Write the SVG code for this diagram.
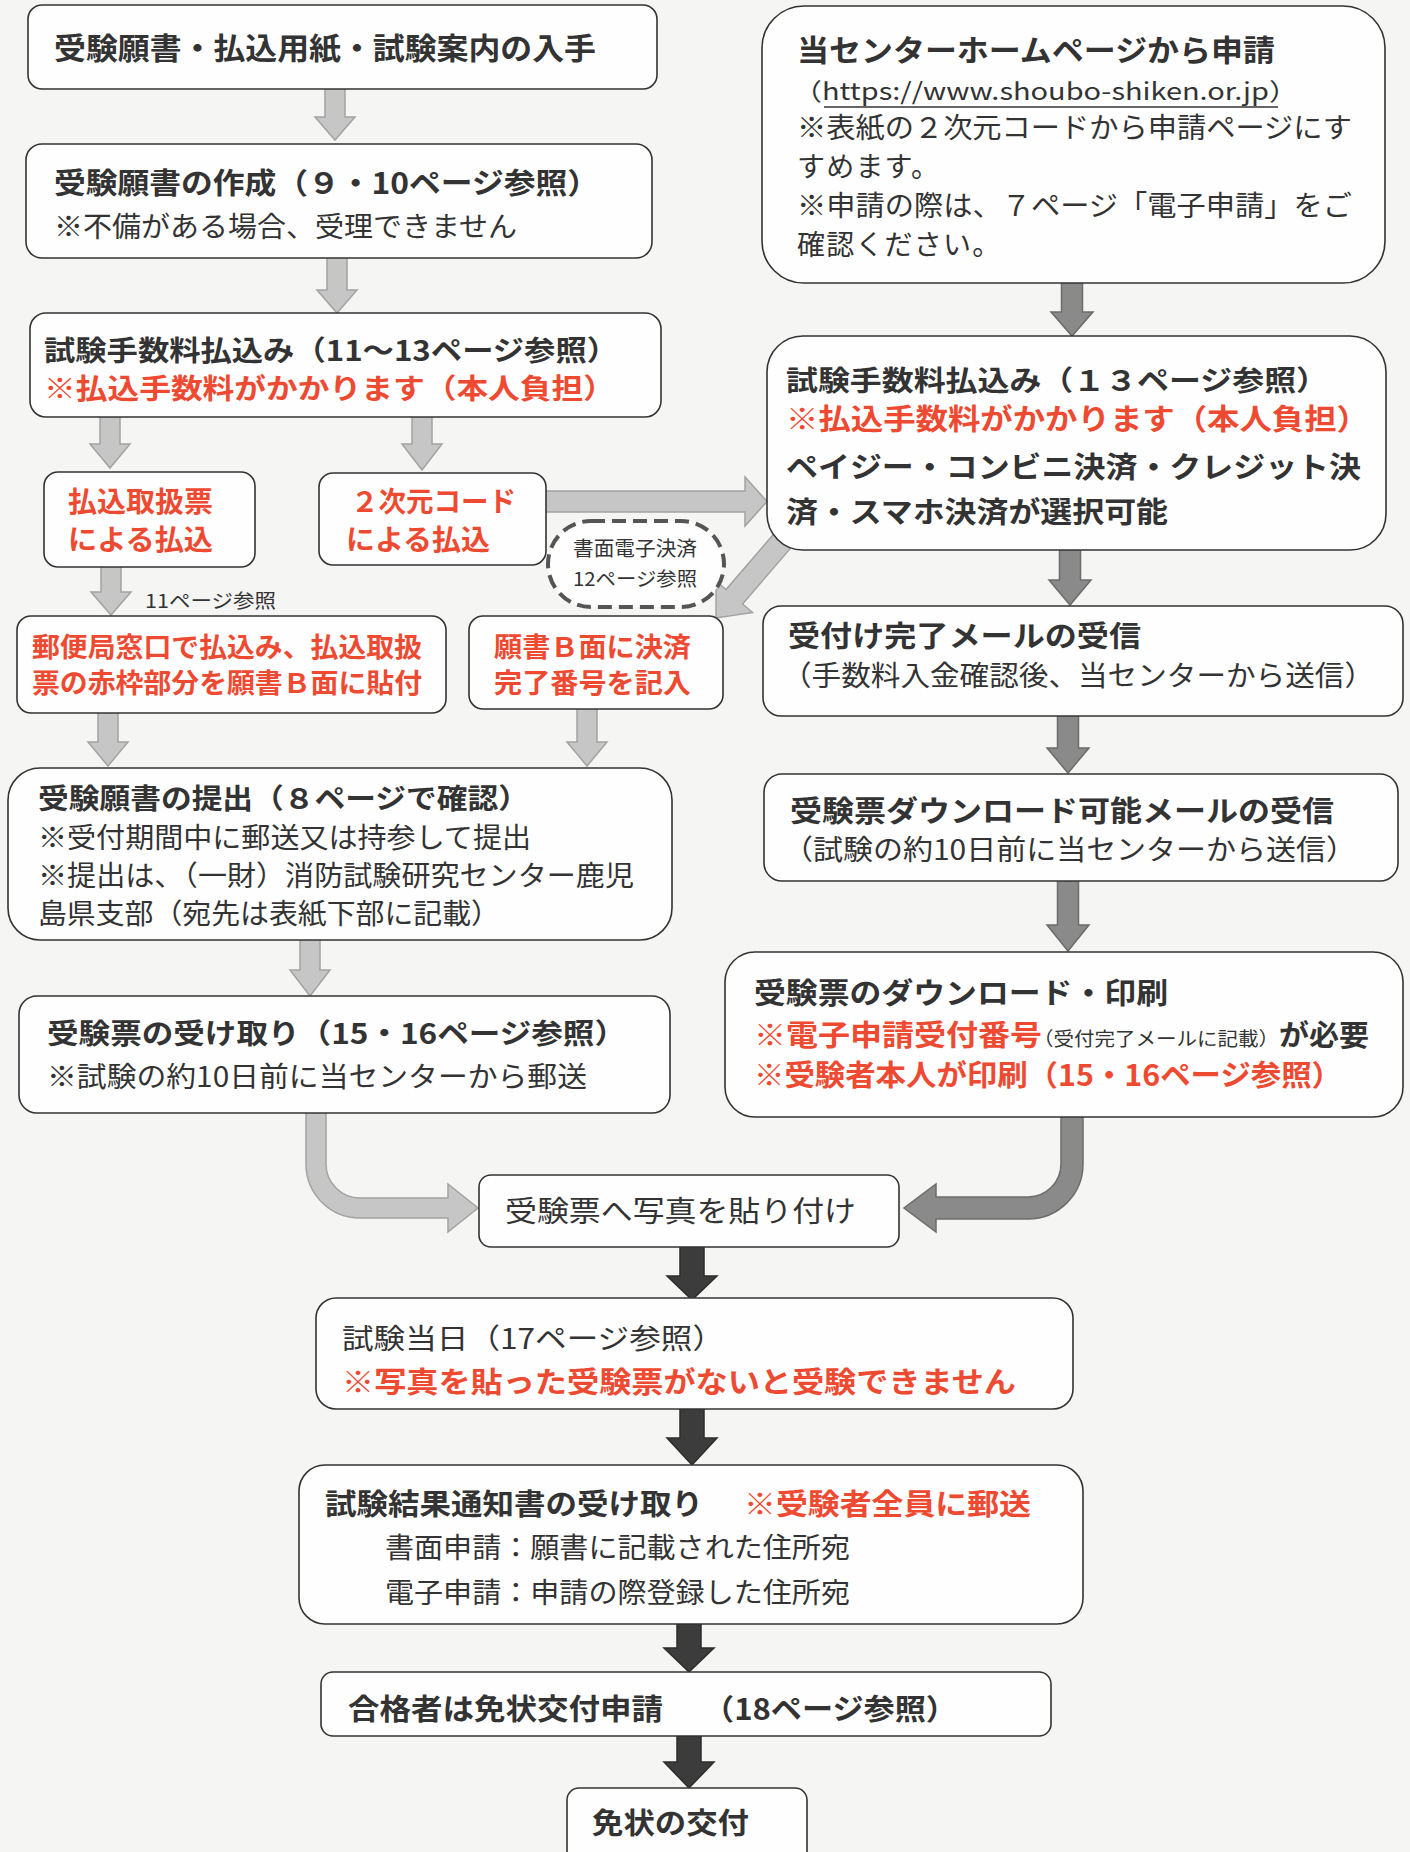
<svg xmlns="http://www.w3.org/2000/svg" width="1410" height="1852" viewBox="0 0 1410 1852">
<style>
.t{font-family:"Noto Sans CJK JP","Noto Sans CJK SC",sans-serif;fill:#333}
.b{font-weight:700}
.r{fill:#ee4a32}
.box{fill:#fefefe;stroke:#333;stroke-width:1.6}
.dash{fill:#fefefe;stroke:#555;stroke-width:4;stroke-dasharray:14 7}
.al{fill:#c6c6c6;stroke:#a3a3a3;stroke-width:1.5}
.am{fill:#8a8a8a;stroke:#6c6c6c;stroke-width:1.5}
.ad{fill:#3c3c3c;stroke:#2c2c2c;stroke-width:1.5}
</style>
<rect x="0" y="0" width="1410" height="1852" fill="#f5f5f3"/>
<g id="connectors">
<polygon class="al" points="325,85 345,85 345,117 355,117 335,140 315,117 325,117"/>
<polygon class="al" points="327,254 347,254 347,290 357,290 337,313 317,290 327,290"/>
<polygon class="al" points="100,413 120,413 120,444 130,444 110,468 90,444 100,444"/>
<polygon class="al" points="412,413 432,413 432,444 442,444 422,470 402,444 412,444"/>
<polygon class="al" points="101,564 121,564 121,592 131,592 111,615 91,592 101,592"/>
<polygon class="al" points="98,710 118,710 118,742 128,742 108,766 88,742 98,742"/>
<polygon class="al" points="577,706 597,706 597,742 607,742 587,766 567,742 577,742"/>
<polygon class="al" points="300,937 320,937 320,970 330,970 310,996 290,970 300,970"/>
<polygon class="al" points="540,491 745,491 745,477 767,501.5 745,526 745,512 540,512"/>
<polygon class="al" points="781.7,524.8 798.3,539.2 742.6,604 752.5,612.4 716,618 716.1,581.2 726,589.6"/>
<path class="al" d="M306 1110 V1164 A54 54 0 0 0 360 1218 H448 V1232 L478 1208 L448 1184 V1198 H360 A34 34 0 0 1 326 1164 V1110 Z"/>
<polygon class="am" points="1061.5,280 1082.5,280 1082.5,312 1093,312 1072,336 1051,312 1061.5,312"/>
<polygon class="am" points="1059.5,547 1080.5,547 1080.5,580 1091,580 1070,605 1049,580 1059.5,580"/>
<polygon class="am" points="1057.5,713 1078.5,713 1078.5,748 1089,748 1068,773 1047,748 1057.5,748"/>
<polygon class="am" points="1057.5,878 1078.5,878 1078.5,925 1089,925 1068,951 1047,925 1057.5,925"/>
<path class="am" d="M1083 1114 V1164 A55 55 0 0 1 1028 1219 H936 V1232 L904 1208 L936 1184 V1197 H1028 A33 33 0 0 0 1061 1164 V1114 Z"/>
<polygon class="ad" points="680,1244 704,1244 704,1276 717,1276 692,1300 667,1276 680,1276"/>
<polygon class="ad" points="680,1406 704,1406 704,1438 717,1438 692,1465 667,1438 680,1438"/>
<polygon class="ad" points="677,1621 701,1621 701,1648 714,1648 689,1672 664,1648 677,1648"/>
<polygon class="ad" points="677,1733 701,1733 701,1762 714,1762 689,1788 664,1762 677,1762"/>
</g>
<g id="n1"><rect class="box" x="28" y="5" width="629" height="84" rx="14"/>
<text class="t b" x="54" y="59" font-size="30" textLength="542" lengthAdjust="spacingAndGlyphs">受験願書・払込用紙・試験案内の入手</text></g>
<g id="n2"><rect class="box" x="26" y="144" width="626" height="114" rx="16"/>
<text class="t b" x="54" y="194" font-size="29" textLength="545" lengthAdjust="spacingAndGlyphs">受験願書の作成（９・10ページ参照）</text>
<text class="t" x="54" y="237" font-size="28" textLength="463" lengthAdjust="spacingAndGlyphs">※不備がある場合、受理できません</text></g>
<g id="n3"><rect class="box" x="30" y="313" width="631" height="104" rx="16"/>
<text class="t b" x="44" y="361" font-size="28" textLength="574" lengthAdjust="spacingAndGlyphs">試験手数料払込み（11～13ページ参照）</text>
<text class="t b r" x="44" y="399" font-size="28" textLength="571" lengthAdjust="spacingAndGlyphs">※払込手数料がかかります（本人負担）</text></g>
<g id="n4a"><rect class="box" x="44" y="472" width="211" height="95" rx="14"/>
<text class="t b r" x="68" y="512" font-size="28" textLength="145" lengthAdjust="spacingAndGlyphs">払込取扱票</text>
<text class="t b r" x="68" y="550" font-size="28" textLength="145" lengthAdjust="spacingAndGlyphs">による払込</text></g>
<g id="n4b"><rect class="box" x="319" y="473" width="227" height="92" rx="14"/>
<text class="t b r" x="351" y="512" font-size="28" textLength="165" lengthAdjust="spacingAndGlyphs">２次元コード</text>
<text class="t b r" x="346" y="550" font-size="28" textLength="144" lengthAdjust="spacingAndGlyphs">による払込</text></g>
<g id="n4e"><rect class="dash" x="548" y="521" width="176" height="86" rx="43"/>
<text class="t" x="573" y="556" font-size="20" textLength="124" lengthAdjust="spacingAndGlyphs">書面電子決済</text>
<text class="t" x="573" y="586" font-size="19" textLength="124" lengthAdjust="spacingAndGlyphs">12ページ参照</text></g>
<g id="lbl11"><text class="t" x="145" y="608" font-size="19" textLength="131" lengthAdjust="spacingAndGlyphs">11ページ参照</text></g>
<g id="n4c"><rect class="box" x="17" y="616" width="429" height="97" rx="14"/>
<text class="t b r" x="32" y="657" font-size="27" textLength="390" lengthAdjust="spacingAndGlyphs">郵便局窓口で払込み、払込取扱</text>
<text class="t b r" x="32" y="693" font-size="27" textLength="390" lengthAdjust="spacingAndGlyphs">票の赤枠部分を願書Ｂ面に貼付</text></g>
<g id="n4d"><rect class="box" x="469" y="616" width="254" height="93" rx="14"/>
<text class="t b r" x="494" y="657" font-size="27" textLength="197" lengthAdjust="spacingAndGlyphs">願書Ｂ面に決済</text>
<text class="t b r" x="494" y="693" font-size="27" textLength="197" lengthAdjust="spacingAndGlyphs">完了番号を記入</text></g>
<g id="n5"><rect class="box" x="8" y="768" width="664" height="172" rx="32"/>
<text class="t b" x="38" y="809" font-size="28" textLength="491" lengthAdjust="spacingAndGlyphs">受験願書の提出（８ページで確認）</text>
<text class="t" x="38" y="848" font-size="28" textLength="493" lengthAdjust="spacingAndGlyphs">※受付期間中に郵送又は持参して提出</text>
<text class="t" x="38" y="886" font-size="28" textLength="596" lengthAdjust="spacingAndGlyphs">※提出は、（一財）消防試験研究センター鹿児</text>
<text class="t" x="38" y="924" font-size="28" textLength="462" lengthAdjust="spacingAndGlyphs">島県支部（宛先は表紙下部に記載）</text></g>
<g id="n6"><rect class="box" x="19" y="996" width="651" height="117" rx="18"/>
<text class="t b" x="47" y="1044" font-size="28" textLength="579" lengthAdjust="spacingAndGlyphs">受験票の受け取り（15・16ページ参照）</text>
<text class="t" x="47" y="1087" font-size="28" textLength="540" lengthAdjust="spacingAndGlyphs">※試験の約10日前に当センターから郵送</text></g>
<g id="r1"><rect class="box" x="762" y="6" width="623" height="277" rx="42"/>
<text class="t b" x="797" y="61" font-size="30" textLength="478" lengthAdjust="spacingAndGlyphs">当センターホームページから申請</text>
<text class="t" x="793" y="100" font-size="24" textLength="505" lengthAdjust="spacingAndGlyphs">（https://www.shoubo-shiken.or.jp）</text>
<line x1="824" y1="107" x2="1278" y2="107" stroke="#333" stroke-width="1.5"/>
<text class="t" x="797" y="138" font-size="28" textLength="555" lengthAdjust="spacingAndGlyphs">※表紙の２次元コードから申請ページにす</text>
<text class="t" x="797" y="177" font-size="28" letter-spacing="1.2">すめます。</text>
<text class="t" x="797" y="216" font-size="28" textLength="555" lengthAdjust="spacingAndGlyphs">※申請の際は、７ページ「電子申請」をご</text>
<text class="t" x="797" y="255" font-size="28" letter-spacing="1.2">確認ください。</text></g>
<g id="r2"><rect class="box" x="767" y="336" width="619" height="214" rx="36"/>
<text class="t b" x="786" y="391" font-size="28" textLength="542" lengthAdjust="spacingAndGlyphs">試験手数料払込み（１３ページ参照）</text>
<text class="t b r" x="786" y="430" font-size="29" textLength="583" lengthAdjust="spacingAndGlyphs">※払込手数料がかかります（本人負担）</text>
<text class="t b" x="786" y="478" font-size="29" textLength="575" lengthAdjust="spacingAndGlyphs">ペイジー・コンビニ決済・クレジット決</text>
<text class="t b" x="786" y="523" font-size="29" textLength="382" lengthAdjust="spacingAndGlyphs">済・スマホ決済が選択可能</text></g>
<g id="r3"><rect class="box" x="763" y="606" width="640" height="110" rx="18"/>
<text class="t b" x="788" y="647" font-size="29" textLength="353" lengthAdjust="spacingAndGlyphs">受付け完了メールの受信</text>
<text class="t" x="782" y="686" font-size="28" textLength="592" lengthAdjust="spacingAndGlyphs">（手数料入金確認後、当センターから送信）</text></g>
<g id="r4"><rect class="box" x="764" y="774" width="634" height="107" rx="18"/>
<text class="t b" x="790" y="822" font-size="29" textLength="544" lengthAdjust="spacingAndGlyphs">受験票ダウンロード可能メールの受信</text>
<text class="t" x="783" y="860" font-size="28" textLength="573" lengthAdjust="spacingAndGlyphs">（試験の約10日前に当センターから送信）</text></g>
<g id="r5"><rect class="box" x="725" y="952" width="678" height="165" rx="30"/>
<text class="t b" x="754" y="1004" font-size="29" textLength="414" lengthAdjust="spacingAndGlyphs">受験票のダウンロード・印刷</text>
<text class="t b r" x="754" y="1046" font-size="29" textLength="288" lengthAdjust="spacingAndGlyphs">※電子申請受付番号</text>
<text class="t" x="1033" y="1046" font-size="19" textLength="246" lengthAdjust="spacingAndGlyphs">（受付完了メールに記載）</text>
<text class="t b" x="1279" y="1046" font-size="29" textLength="90" lengthAdjust="spacingAndGlyphs">が必要</text>
<text class="t b r" x="754" y="1086" font-size="29" textLength="588" lengthAdjust="spacingAndGlyphs">※受験者本人が印刷（15・16ページ参照）</text></g>
<g id="n7"><rect class="box" x="479" y="1175" width="420" height="72" rx="12"/>
<text class="t" x="505" y="1222" font-size="29" textLength="351" lengthAdjust="spacingAndGlyphs">受験票へ写真を貼り付け</text></g>
<g id="n8"><rect class="box" x="316" y="1298" width="757" height="111" rx="20"/>
<text class="t" x="342" y="1349" font-size="28" textLength="382" lengthAdjust="spacingAndGlyphs">試験当日（17ページ参照）</text>
<text class="t b r" x="342" y="1393" font-size="29" textLength="674" lengthAdjust="spacingAndGlyphs">※写真を貼った受験票がないと受験できません</text></g>
<g id="n9"><rect class="box" x="299" y="1465" width="784" height="159" rx="26"/>
<text class="t b" x="325" y="1515" font-size="29" textLength="378" lengthAdjust="spacingAndGlyphs">試験結果通知書の受け取り</text>
<text class="t b r" x="744" y="1515" font-size="29" textLength="287" lengthAdjust="spacingAndGlyphs">※受験者全員に郵送</text>
<text class="t" x="385" y="1558" font-size="28" textLength="465" lengthAdjust="spacingAndGlyphs">書面申請：願書に記載された住所宛</text>
<text class="t" x="385" y="1603" font-size="28" textLength="465" lengthAdjust="spacingAndGlyphs">電子申請：申請の際登録した住所宛</text></g>
<g id="n10"><rect class="box" x="321" y="1672" width="730" height="64" rx="12"/>
<text class="t b" x="348" y="1720" font-size="29" textLength="315" lengthAdjust="spacingAndGlyphs">合格者は免状交付申請</text>
<text class="t b" x="703" y="1720" font-size="29" textLength="254" lengthAdjust="spacingAndGlyphs">（18ページ参照）</text></g>
<g id="n11"><rect class="box" x="567" y="1788" width="240" height="80" rx="12"/>
<text class="t b" x="592" y="1834" font-size="29" textLength="157" lengthAdjust="spacingAndGlyphs">免状の交付</text></g>
</svg>
